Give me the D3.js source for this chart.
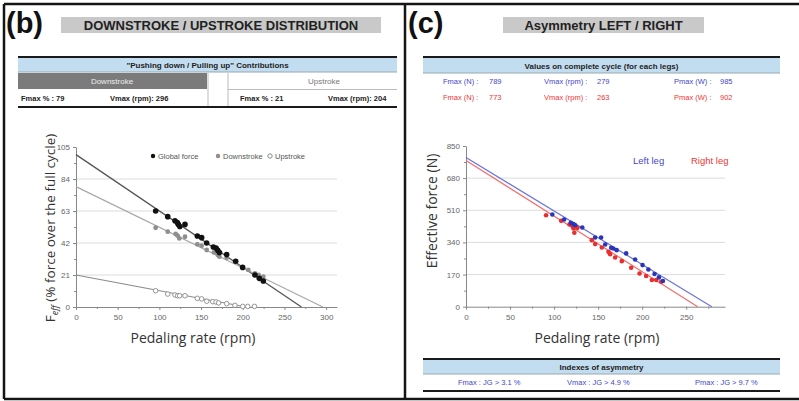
<!DOCTYPE html>
<html>
<head>
<meta charset="utf-8">
<script src="https://cdn.jsdelivr.net/npm/d3@7"></script>
<style>
  body { margin: 0; background: #fff; }
  svg { display: block; }
  .tbl { font-family: "Liberation Sans", Arial, sans-serif; }
  .ax text { font-family: "Liberation Sans", Arial, sans-serif; font-size: 8px; fill: #666; }
  .ax path, .ax line { stroke: #888; }
</style>
</head>
<body>
<svg id="chart" width="799" height="401"></svg>
<script>
// ---- Panel (b): share of force, pushing down vs pulling up ----
const downUpHeader = ["Downstroke", "Upstroke"];
const downFmax = 79, downVmax = 296;   // % , rpm
const upFmax = 21, upVmax = 204;
const globalFmax = 100;

const globalPts = [[95.5,63],[110,59.3],[118.7,56.6],[121.5,55.5],[122.7,54.2],[130.7,54.2],[124.5,52.8],
  [145.5,46.6],[150.7,45.5],[156.7,42],[164.7,39.4],[168,38.7],[170,37.2],[172,35.7],[180.7,34.4],
  [191.5,30],[199.8,26],[214.6,21],[219.8,18.8],[224.6,17.1]];
const downPts = [[95.5,52],[110,49.4],[119.5,47.9],[121.9,46.8],[123.9,45],[130.7,46.1],[145.5,41.1],
  [150.7,40.2],[156.7,37.4],[165.5,35.8],[170,34.1],[172,33],[180.7,32.3],[191.5,29.7],[200,26],
  [206.6,24.3],[214.6,22.1],[219,21],[224.6,19.9]];
const upPts = [[95.5,10.7],[110,8.5],[118.7,7.9],[121.9,7.4],[124.3,7.4],[130.7,7.4],[145.5,5.7],
  [150.7,5.3],[156.8,3.8],[164,3.5],[168,3.3],[171,2.7],[180.7,2.2],[190.6,1.1],[200,0.4],[206,0.4],[214,0.4]];
const bYTicks = [0, 21, 42, 63, 84, 105];
const bXTicks = [0, 50, 100, 150, 200, 250, 300];

// ---- Panel (c): left / right leg force-velocity ----
const legNames = ["Left leg", "Right leg"];
const leftVals = {Fmax: 789, Vmax: 279, Pmax: 985};
const rightVals = {Fmax: 773, Vmax: 263, Pmax: 902};
const asymIdx = ["Fmax :  JG > 3.1 %", "Vmax :  JG > 4.9 %", "Pmax :  JG > 9.7 %"];

const leftPts = [[98,488],[111.4,461],[119,443.5],[122,436.6],[123.9,431],[132,419],[146.6,366],[153.4,366],
  [158,329],[164.8,311.5],[167,308],[171,299],[181.8,282],[192,250],[200.4,220],[207,197],[214,172.6],
  [219,155],[223.5,135.7]];
const rightPts = [[90.9,484],[108,454],[117.4,435],[120.8,428],[122,414],[123,391],[126.5,417],[142.8,352],
  [146.6,331],[154.2,313],[161.7,290],[163.6,278],[169.3,260],[176.9,241],[187.5,206],[197,176],
  [204.5,162],[211,141],[216,141],[221.6,132]];
const cYTicks = [0, 170, 340, 510, 680, 850];
const cXTicks = [0, 50, 100, 150, 200, 250];

const svg = d3.select("#chart");
svg.append("rect").attr("width", 799).attr("height", 401).attr("fill", "#fff");

// outer frame and panel divider
const frame = svg.append("g").attr("stroke", "#151515").attr("stroke-width", 2.5);
frame.append("line").attr("x1", 4).attr("y1", 4).attr("x2", 799).attr("y2", 4);
frame.append("line").attr("x1", 4).attr("y1", 4).attr("x2", 4).attr("y2", 399);
frame.append("line").attr("x1", 405).attr("y1", 4).attr("x2", 405).attr("y2", 399);
frame.append("line").attr("x1", 4).attr("y1", 399).attr("x2", 799).attr("y2", 399);

// panel letters and title boxes
function panelTitle(letter, lx, title, bx0, bx1) {
  svg.append("text").attr("x", lx).attr("y", 33).text(letter)
    .attr("font-family", "Liberation Sans, Arial, sans-serif").attr("font-weight", "bold")
    .attr("font-size", 29).attr("fill", "#111");
  svg.append("rect").attr("x", bx0).attr("y", 17).attr("width", bx1 - bx0).attr("height", 16).attr("fill", "#c9c9c9");
  svg.append("text").attr("x", (bx0 + bx1) / 2).attr("y", 30).attr("text-anchor", "middle").text(title)
    .attr("font-family", "Liberation Sans, Arial, sans-serif").attr("font-weight", "bold")
    .attr("font-size", 13).attr("fill", "#222");
}
panelTitle("(b)", 6, "DOWNSTROKE / UPSTROKE DISTRIBUTION", 61, 381);
panelTitle("(c)", 408, "Asymmetry LEFT / RIGHT", 503, 704);

function thick(x0, x1, y) {
  svg.append("line").attr("x1", x0).attr("x2", x1).attr("y1", y).attr("y2", y)
    .attr("stroke", "#1a1a1a").attr("stroke-width", 2);
}
function band(x0, x1, y0, y1, label) {
  svg.append("rect").attr("x", x0).attr("y", y0).attr("width", x1 - x0).attr("height", y1 - y0).attr("fill", "#c3ddf0");
  svg.append("line").attr("x1", x0).attr("x2", x1).attr("y1", y1).attr("y2", y1).attr("stroke", "#9aa7b0");
  svg.append("text").attr("class", "tbl").attr("x", (x0 + x1) / 2).attr("y", y1 - 4).attr("text-anchor", "middle")
    .attr("font-size", 8).attr("font-weight", "bold").attr("fill", "#222").text(label);
}
function txt(x, y, s, color, weight) {
  svg.append("text").attr("class", "tbl").attr("x", x).attr("y", y).attr("font-size", 7.5)
    .attr("font-weight", weight || "normal").attr("fill", color).text(s);
}

// ---- table (b) ----
thick(18, 397, 57);
band(18, 397, 58, 72, "\"Pushing down / Pulling up\" Contributions");
svg.append("rect").attr("x", 18).attr("y", 73).attr("width", 189).attr("height", 16).attr("fill", "#7b7b7b");
svg.append("text").attr("class", "tbl").attr("x", 112).attr("y", 84).attr("text-anchor", "middle")
  .attr("font-size", 8).attr("fill", "#eee").text(downUpHeader[0]);
svg.append("text").attr("class", "tbl").attr("x", 324).attr("y", 84).attr("text-anchor", "middle")
  .attr("font-size", 8).attr("fill", "#777").text(downUpHeader[1]);
[208, 228].forEach(x => svg.append("line").attr("x1", x).attr("x2", x).attr("y1", 73).attr("y2", 106).attr("stroke", "#bbb"));
svg.append("line").attr("x1", 228).attr("x2", 397).attr("y1", 89.5).attr("y2", 89.5).attr("stroke", "#bbb");
txt(21, 101, "Fmax % :  " + downFmax, "#222", "bold");
txt(110, 101, "Vmax (rpm):  " + downVmax, "#222", "bold");
txt(240, 101, "Fmax % :  " + upFmax, "#222", "bold");
txt(328, 101, "Vmax (rpm):  " + upVmax, "#222", "bold");
thick(18, 397, 107);

// ---- table (c) top ----
const blue = "#4646c8", red = "#ee3535";
thick(423, 780, 57);
band(423, 780, 58, 73, "Values on complete cycle (for each legs)");
[[leftVals, blue, 84], [rightVals, red, 100]].forEach(([v, col, y]) => {
  txt(443, y, "Fmax (N) :", col); txt(489, y, String(v.Fmax), col);
  txt(544, y, "Vmax (rpm) :", col); txt(597, y, String(v.Vmax), col);
  txt(674, y, "Pmax (W) :", col); txt(720, y, String(v.Pmax), col);
});

// ---- table (c) bottom ----
thick(423, 780, 359);
band(423, 780, 360, 374, "Indexes of asymmetry");
[458, 567, 695].forEach((x, i) => txt(x, 385, asymIdx[i], blue));
thick(423, 780, 391);

// ---- chart helpers ----
function axes(g, x, y, xt, yt, xMinor, yMinor) {
  const [y0] = y.range();
  g.append("g").selectAll("line").data(yt.filter(d => d > 0 && d < y.domain()[1])).join("line")
    .attr("x1", x.range()[0]).attr("x2", x.range()[1]).attr("y1", d => y(d)).attr("y2", d => y(d))
    .attr("stroke", "#dcdcdc");
  const xa = g.append("g").attr("class", "ax").attr("transform", `translate(0,${y0})`)
    .call(d3.axisBottom(x).tickValues(xt).tickSize(3).tickSizeOuter(0));
  xa.selectAll(".tick text").attr("dy", "0.9em");
  g.append("g").attr("class", "ax").attr("transform", `translate(0,${y0})`)
    .call(d3.axisBottom(x).tickValues(xMinor).tickSize(2).tickFormat("").tickSizeOuter(0))
    .select(".domain").remove();
  g.append("g").attr("class", "ax").attr("transform", `translate(${x.range()[0]},0)`)
    .call(d3.axisLeft(y).tickValues(yt).tickSize(3).tickSizeOuter(0));
  g.append("g").attr("class", "ax").attr("transform", `translate(${x.range()[0]},0)`)
    .call(d3.axisLeft(y).tickValues(yMinor).tickSize(2).tickFormat("").tickSizeOuter(0))
    .select(".domain").remove();
}

// ---- chart (b) ----
const xb = d3.scaleLinear().domain([0, 313]).range([76, 337]);
const yb = d3.scaleLinear().domain([0, 105]).range([307, 147]);
const gb = svg.append("g");
axes(gb, xb, yb, bXTicks, bYTicks, d3.range(25, 313, 50), d3.range(10.5, 105, 21));

const fitLines = [
  {f: globalFmax, v: globalFmax / (downFmax / downVmax + upFmax / upVmax), c: "#555", w: 1.3},
  {f: downFmax, v: downVmax, c: "#a8a8a8", w: 1.2},
  {f: upFmax, v: upVmax, c: "#8c8c8c", w: 1.2}
];
gb.selectAll("line.fit").data(fitLines).join("line").attr("class", "fit")
  .attr("x1", xb(0)).attr("y1", d => yb(d.f)).attr("x2", d => xb(d.v)).attr("y2", yb(0))
  .attr("stroke", d => d.c).attr("stroke-width", d => d.w);

gb.selectAll("circle.up").data(upPts).join("circle").attr("class", "up")
  .attr("cx", d => xb(d[0])).attr("cy", d => yb(d[1])).attr("r", 2.3)
  .attr("fill", "#fff").attr("stroke", "#8a8a8a").attr("stroke-width", 0.9);
gb.selectAll("circle.dn").data(downPts).join("circle").attr("class", "dn")
  .attr("cx", d => xb(d[0])).attr("cy", d => yb(d[1])).attr("r", 2.4).attr("fill", "#8e8e8e");
gb.selectAll("circle.gl").data(globalPts).join("circle").attr("class", "gl")
  .attr("cx", d => xb(d[0])).attr("cy", d => yb(d[1])).attr("r", 2.8).attr("fill", "#111");

// legend (b)
const legB = [
  {label: "Global force", x: 153, fill: "#111", stroke: "none"},
  {label: "Downstroke", x: 218, fill: "#8e8e8e", stroke: "none"},
  {label: "Upstroke", x: 270, fill: "#fff", stroke: "#8a8a8a"}
];
legB.forEach(d => {
  gb.append("circle").attr("cx", d.x).attr("cy", 156).attr("r", 2.2).attr("fill", d.fill).attr("stroke", d.stroke);
  gb.append("text").attr("class", "tbl").attr("x", d.x + 5).attr("y", 159).attr("font-size", 7.5)
    .attr("fill", "#555").text(d.label);
});

const labelFont = "'Open Sans', sans-serif";
const yLabB = gb.append("text").attr("transform", "translate(55,228) rotate(-90)").attr("text-anchor", "middle")
  .attr("font-family", labelFont).attr("font-size", 13.5).attr("fill", "#333");
yLabB.append("tspan").text("F");
yLabB.append("tspan").attr("font-size", 9).attr("font-style", "italic").attr("dy", 3).text("eff");
yLabB.append("tspan").attr("dy", -3).text(" (% force over the full cycle)");
gb.append("text").attr("x", 193).attr("y", 343).attr("text-anchor", "middle")
  .attr("font-family", labelFont).attr("font-size", 14).attr("fill", "#333").text("Pedaling rate (rpm)");

// ---- chart (c) ----
const xc = d3.scaleLinear().domain([0, 294]).range([466, 725]);
const yc = d3.scaleLinear().domain([0, 850]).range([306.7, 146]);
const gc = svg.append("g");
axes(gc, xc, yc, cXTicks, cYTicks, d3.range(25, 294, 50), d3.range(85, 850, 170));

const legLines = [
  {f: leftVals.Fmax, v: leftVals.Vmax, c: "#6b74dc"},
  {f: rightVals.Fmax, v: rightVals.Vmax, c: "#f26c6c"}
];
gc.selectAll("line.fit").data(legLines).join("line").attr("class", "fit")
  .attr("x1", xc(0)).attr("y1", d => yc(d.f)).attr("x2", d => xc(d.v)).attr("y2", yc(0))
  .attr("stroke", d => d.c).attr("stroke-width", 1.2);
gc.selectAll("circle.r").data(rightPts).join("circle").attr("class", "r")
  .attr("cx", d => xc(d[0])).attr("cy", d => yc(d[1])).attr("r", 2.3).attr("fill", "#e82f2f");
gc.selectAll("circle.l").data(leftPts).join("circle").attr("class", "l")
  .attr("cx", d => xc(d[0])).attr("cy", d => yc(d[1])).attr("r", 2.3).attr("fill", "#2a36b8");

gc.append("text").attr("class", "tbl").attr("x", 633).attr("y", 164).attr("font-size", 9.5).attr("fill", blue).text(legNames[0]);
gc.append("text").attr("class", "tbl").attr("x", 691).attr("y", 164).attr("font-size", 9.5).attr("fill", red).text(legNames[1]);

gc.append("text").attr("transform", "translate(437,211) rotate(-90)").attr("text-anchor", "middle")
  .attr("font-family", labelFont).attr("font-size", 14).attr("fill", "#333").text("Effective force (N)");
gc.append("text").attr("x", 597).attr("y", 343).attr("text-anchor", "middle")
  .attr("font-family", labelFont).attr("font-size", 14).attr("fill", "#333").text("Pedaling rate (rpm)");
</script>
</body>
</html>
